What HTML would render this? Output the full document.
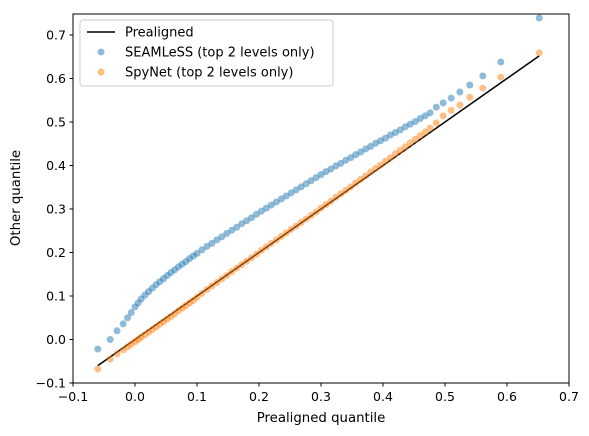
<!DOCTYPE html>
<html><head><meta charset="utf-8"><style>
html,body{margin:0;padding:0;background:#fff;}
svg{display:block;font-family:"DejaVu Sans","Liberation Sans",sans-serif;}
</style></head><body>
<svg id="chart" width="589" height="436" viewBox="0 0 589 436">
<rect x="0" y="0" width="589" height="436" fill="#fff"/>
<g id="plot"></g>
<rect x="73" y="14" width="496" height="369" fill="none" stroke="#000" stroke-width="1"/>
<g id="xticks"></g>
<g id="yticks"></g>
<text x="321" y="422" font-size="13.3" text-anchor="middle">Prealigned quantile</text>
<text x="20" y="198" font-size="13.3" text-anchor="middle" transform="rotate(-90 20 198)">Other quantile</text>
<g>
<rect x="80" y="20" width="253" height="66" rx="3" fill="#fff" fill-opacity="0.8" stroke="#ccc"/>
<line x1="87" y1="32" x2="115" y2="32" stroke="#000" stroke-width="1.5"/>
<text x="125" y="36.5" font-size="13">Prealigned</text>
<circle cx="101" cy="52" r="3.5" fill="#1f77b4" fill-opacity="0.5"/>
<text x="125" y="56.5" font-size="13">SEAMLeSS (top 2 levels only)</text>
<circle cx="101" cy="72" r="3.5" fill="#ff7f0e" fill-opacity="0.5"/>
<text x="125" y="76.5" font-size="13">SpyNet (top 2 levels only)</text>
</g>
</svg>
<script>
const xQuant=[-0.06,-0.04,-0.029,-0.019,-0.012,-0.006,0,0.005,0.01,0.016,0.022,0.028,0.034,0.04,0.046,0.052,0.058,0.064,0.07,0.076,0.082,0.088,0.094,0.1,0.108,0.116,0.124,0.132,0.14,0.148,0.156,0.164,0.172,0.18,0.188,0.196,0.204,0.212,0.22,0.228,0.236,0.244,0.252,0.26,0.268,0.276,0.284,0.292,0.3,0.308,0.316,0.324,0.332,0.34,0.348,0.356,0.364,0.372,0.38,0.388,0.396,0.404,0.412,0.42,0.428,0.436,0.444,0.452,0.46,0.468,0.476,0.486,0.497,0.51,0.524,0.54,0.561,0.59,0.652];
const seamless=[-0.022,0.0,0.02,0.036,0.05,0.062,0.075,0.084,0.093,0.102,0.11,0.118,0.126,0.133,0.14,0.147,0.154,0.16,0.167,0.173,0.179,0.186,0.192,0.198,0.206,0.214,0.221,0.229,0.236,0.244,0.251,0.258,0.266,0.273,0.28,0.288,0.295,0.302,0.309,0.316,0.323,0.33,0.337,0.344,0.351,0.358,0.365,0.372,0.379,0.386,0.392,0.399,0.405,0.412,0.418,0.425,0.431,0.438,0.444,0.451,0.457,0.463,0.47,0.476,0.482,0.489,0.495,0.501,0.508,0.514,0.521,0.534,0.544,0.555,0.569,0.585,0.606,0.638,0.739];
const spynet=[-0.068,-0.045,-0.033,-0.024,-0.017,-0.011,-0.005,0.0,0.005,0.011,0.017,0.023,0.029,0.035,0.041,0.047,0.053,0.059,0.066,0.072,0.078,0.084,0.09,0.097,0.106,0.115,0.123,0.131,0.139,0.147,0.156,0.164,0.172,0.18,0.188,0.196,0.205,0.213,0.221,0.229,0.237,0.245,0.253,0.261,0.269,0.277,0.285,0.293,0.302,0.31,0.318,0.327,0.335,0.343,0.351,0.36,0.368,0.376,0.385,0.393,0.401,0.41,0.418,0.427,0.435,0.443,0.452,0.46,0.469,0.477,0.486,0.498,0.514,0.527,0.539,0.557,0.578,0.603,0.659];
const lineX=[-0.06,0.652];
const xTicks=[-0.1,0.0,0.1,0.2,0.3,0.4,0.5,0.6,0.7];
const xTickLabels=["\u22120.1","0.0","0.1","0.2","0.3","0.4","0.5","0.6","0.7"];
const yTicks=[-0.1,0.0,0.1,0.2,0.3,0.4,0.5,0.6,0.7];
const yTickLabels=["\u22120.1","0.0","0.1","0.2","0.3","0.4","0.5","0.6","0.7"];

const NS="http://www.w3.org/2000/svg";
function sx(v){return 73+(v+0.1)*620;}
function sy(v){return 35+(0.7-v)*435;}
function mk(tag,attrs,parent){const e=document.createElementNS(NS,tag);for(const k in attrs)e.setAttribute(k,attrs[k]);parent.appendChild(e);return e;}
const plot=document.getElementById('plot');
const ln=mk('line',{x1:sx(lineX[0]),y1:sy(lineX[0]),x2:sx(lineX[1]),y2:sy(lineX[1]),stroke:'#000','stroke-width':1.5},plot);


xQuant.forEach((x,i)=>{
  const c=mk('circle',{cx:sx(x),cy:sy(seamless[i]),r:3.5,fill:'#1f77b4','fill-opacity':0.5},plot);
  
  
});
xQuant.forEach((x,i)=>{
  const c=mk('circle',{cx:sx(x),cy:sy(spynet[i]),r:3.5,fill:'#ff7f0e','fill-opacity':0.5},plot);
  
  
});
const xg=document.getElementById('xticks');
xTicks.forEach((t,i)=>{
  const l=mk('line',{x1:sx(t),x2:sx(t),y1:383,y2:386.5,stroke:'#000'},xg);
  
  
  const tx=mk('text',{x:sx(t),y:401,'font-size':12.5,'text-anchor':'middle'},xg);
  tx.textContent=xTickLabels[i];
  
  
});
const yg=document.getElementById('yticks');
yTicks.forEach((t,i)=>{
  const l=mk('line',{x1:69.5,x2:73,y1:sy(t),y2:sy(t),stroke:'#000'},yg);
  
  
  const tx=mk('text',{x:66,y:sy(t)+4.5,'font-size':12.5,'text-anchor':'end'},yg);
  tx.textContent=yTickLabels[i];
  
  
});
</script>
</body></html>
